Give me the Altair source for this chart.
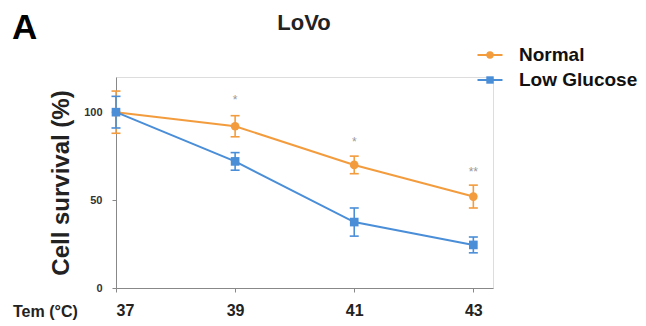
import altair as alt
import pandas as pd

temps = [37, 39, 41, 43]
normal = [100, 92, 70, 52]
normal_err = [12, 6, 5, 6.5]
low = [100, 72, 37.5, 24.5]
low_err = [9, 5, 8, 4.5]
star_temps = [39, 41, 43]
star_y = [107, 83, 66]
star_text = ["*", "*", "**"]

series_names = ["Normal", "Low Glucose"]
colors = ["#F39C3E", "#4A8ED8"]
shapes = ["circle", "square"]

rows = []
for t, v, e in zip(temps, normal, normal_err):
    rows.append({"temp": t, "val": v, "lo": v - e, "hi": v + e, "series": "Normal"})
for t, v, e in zip(temps, low, low_err):
    rows.append({"temp": t, "val": v, "lo": v - e, "hi": v + e, "series": "Low Glucose"})
df = pd.DataFrame(rows)
stars = pd.DataFrame({"temp": star_temps, "y": star_y, "txt": star_text})

cscale = alt.Scale(domain=series_names, range=colors)
sscale = alt.Scale(domain=series_names, range=shapes)
xs = alt.Scale(domain=[37, 43.33], nice=False, zero=False)
ys = alt.Scale(domain=[0, 120], nice=False)

xaxis = alt.Axis(values=temps, format="d", title=None, labelFontWeight="bold",
                 labelFontSize=16, labelColor="#222", domainColor="#888", tickColor="#888",
                 labelPadding=10, tickSize=4, grid=False)
x = alt.X("temp:Q", scale=xs, axis=xaxis)
y = alt.Y("val:Q", scale=ys, axis=alt.Axis(values=[0, 50, 100], title="Cell survival (%)",
          titleFontSize=24, titleFontWeight="bold", titleColor="#222", titlePadding=10,
          labelFontSize=11, labelFontWeight="bold", labelColor="#333", labelPadding=10,
          domainColor="#888", tickColor="#888", tickSize=4, grid=False))

col = alt.Color("series:N", scale=cscale, legend=None)
shp = alt.Shape("series:N", scale=sscale, legend=None)

lines = alt.Chart(df).mark_line(strokeWidth=2).encode(x=x, y=y, color=col, detail="series:N")
err_rule = alt.Chart(df).mark_rule(strokeWidth=1.6).encode(
    x=x, y=alt.Y("lo:Q", scale=ys), y2="hi:Q", color=col)
err_lo = alt.Chart(df).mark_tick(orient="horizontal", size=9, thickness=1.6, opacity=1).encode(
    x=x, y=alt.Y("lo:Q", scale=ys), color=col)
err_hi = alt.Chart(df).mark_tick(orient="horizontal", size=9, thickness=1.6, opacity=1).encode(
    x=x, y=alt.Y("hi:Q", scale=ys), color=col)
pts = alt.Chart(df).mark_point(filled=True, size=75, opacity=1).encode(
    x=x, y=alt.Y("val:Q", scale=ys), color=col, shape=shp)
startxt = alt.Chart(stars).mark_text(color="#999", fontSize=12, baseline="middle").encode(
    x=x, y=alt.Y("y:Q", scale=ys), text="txt:N")

leg_df = pd.DataFrame({"series": series_names})
leg_layers = []
for name, ypx in zip(series_names, [-22, 3]):
    base = alt.Chart(leg_df).transform_filter(alt.datum.series == name)
    leg_layers.append(base.mark_tick(orient="horizontal", size=25, thickness=2, opacity=1).encode(
        x=alt.value(374), y=alt.value(ypx), color=col))
    leg_layers.append(base.mark_point(filled=True, size=55, opacity=1).encode(
        x=alt.value(374), y=alt.value(ypx), color=col, shape=shp))
    leg_layers.append(base.mark_text(align="left", baseline="middle", fontSize=19, fontWeight="bold",
                                     color="#111").encode(x=alt.value(403), y=alt.value(ypx), text="series:N"))

tem_lbl = alt.Chart(pd.DataFrame({"t": ["Tem (°C)"]})).mark_text(
    align="left", baseline="middle", fontSize=16, fontWeight="bold", color="#222").encode(
    x=alt.value(-103), y=alt.value(235), text="t:N")
a_lbl = alt.Chart(pd.DataFrame({"t": ["A"]})).mark_text(
    align="left", baseline="middle", fontSize=35, fontWeight="bold", color="#000").encode(
    x=alt.value(-104), y=alt.value(-49), text="t:N")
title_lbl = alt.Chart(pd.DataFrame({"t": ["LoVo"]})).mark_text(
    align="center", baseline="middle", fontSize=22, fontWeight="bold", color="#222").encode(
    x=alt.value(188), y=alt.value(-54), text="t:N")

chart = alt.layer(lines, err_rule, err_lo, err_hi, pts, startxt, *leg_layers, tem_lbl, a_lbl, title_lbl).properties(
    width=377, height=211,
    autosize=alt.AutoSizeParams(type="none"),
    padding={"left": 108, "top": 69, "right": 145, "bottom": 38},
).configure_view(strokeWidth=0, stroke="transparent").configure_axis(grid=False).configure(
    font="Liberation Sans")

chart.save("out.html", embed_options={"renderer": "svg", "actions": False})
